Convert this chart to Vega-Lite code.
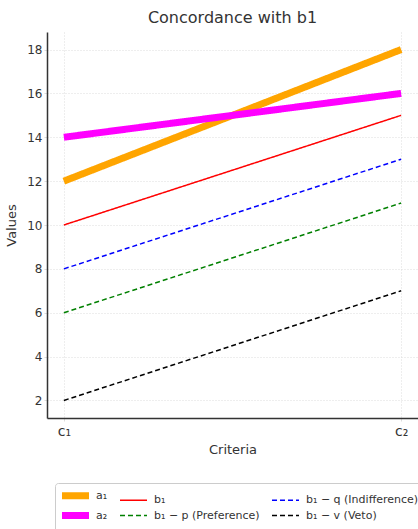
{
  "$schema": "https://vega.github.io/schema/vega-lite/v6.json",
  "width": 371,
  "height": 386,
  "autosize": {"type": "none"},
  "padding": {"left": 47, "top": 32, "right": 0, "bottom": 111},
  "background": "white",
  "title": {"text": "Concordance with b1", "fontSize": 16, "font": "DejaVu Sans", "fontWeight": "normal", "color": "#333333", "offset": 6},
  "config": {
    "font": "DejaVu Sans",
    "view": {"stroke": null},
    "axis": {"labelFont": "DejaVu Sans", "titleFont": "DejaVu Sans", "labelColor": "#333333", "titleColor": "#333333", "labelFontSize": 12, "titleFontSize": 13, "titleFontWeight": "normal", "domainColor": "#333333", "domainWidth": 1.5, "tickColor": "#dddddd", "tickSize": 3, "gridColor": "#dddddd", "gridDash": [1, 2], "gridWidth": 1}
  },
  "data": {"values": [
    {"series": "b₁ − v (Veto)", "criterion": "c₁", "value": 2},
    {"series": "b₁ − v (Veto)", "criterion": "c₂", "value": 7},
    {"series": "b₁ − p (Preference)", "criterion": "c₁", "value": 6},
    {"series": "b₁ − p (Preference)", "criterion": "c₂", "value": 11},
    {"series": "b₁ − q (Indifference)", "criterion": "c₁", "value": 8},
    {"series": "b₁ − q (Indifference)", "criterion": "c₂", "value": 13},
    {"series": "b₁", "criterion": "c₁", "value": 10},
    {"series": "b₁", "criterion": "c₂", "value": 15},
    {"series": "a₁", "criterion": "c₁", "value": 12},
    {"series": "a₁", "criterion": "c₂", "value": 18},
    {"series": "a₂", "criterion": "c₁", "value": 14},
    {"series": "a₂", "criterion": "c₂", "value": 16}
  ]},
  "mark": {"type": "line"},
  "encoding": {
    "x": {"field": "criterion", "type": "ordinal", "title": "Criteria",
      "scale": {"type": "point", "padding": 0.05},
      "axis": {"labelAngle": 0, "grid": true, "labelFontSize": 14, "titlePadding": 5, "labelPadding": 3}},
    "y": {"field": "value", "type": "quantitative", "title": "Values",
      "scale": {"domain": [1.2, 18.8], "nice": false, "zero": false},
      "axis": {"values": [2, 4, 6, 8, 10, 12, 14, 16, 18], "grid": true, "titlePadding": 8}},
    "color": {"field": "series", "type": "nominal", "title": null,
      "scale": {"domain": ["a₁", "b₁", "b₁ − q (Indifference)", "a₂", "b₁ − p (Preference)", "b₁ − v (Veto)"],
        "range": ["#FFA500", "#FF0000", "#0000FF", "#FF00FF", "#008000", "#000000"]},
      "legend": {"orient": "none", "legendX": 8, "legendY": 451, "columns": 3, "direction": "horizontal",
        "symbolType": "M-13.5,0H13.5", "symbolSize": 4, "symbolOffset": 8, "symbolStrokeWidth": 1.5, "labelFontSize": 11, "labelColor": "#333333", "labelFont": "DejaVu Sans",
        "strokeColor": "#cccccc", "cornerRadius": 3, "padding": 7, "columnPadding": 9, "rowPadding": -10, "labelOffset": 15, "fillColor": "white",
        "encode": {"symbols": {"update": {"strokeWidth": {"signal": "indexof(['a₁','a₂'], datum.value) >= 0 ? 7 : 1.5"}}}}}},
    "strokeWidth": {"field": "series", "type": "nominal", "legend": null,
      "scale": {"type": "ordinal", "domain": ["a₁", "b₁", "b₁ − q (Indifference)", "a₂", "b₁ − p (Preference)", "b₁ − v (Veto)"],
        "range": [7, 1.5, 1.5, 7, 1.5, 1.5]}},
    "strokeDash": {"field": "series", "type": "nominal", "title": null,
      "scale": {"domain": ["a₁", "b₁", "b₁ − q (Indifference)", "a₂", "b₁ − p (Preference)", "b₁ − v (Veto)"],
        "range": [[1, 0], [1, 0], [5, 3], [1, 0], [5, 3], [5, 3]]}}
  }
}
